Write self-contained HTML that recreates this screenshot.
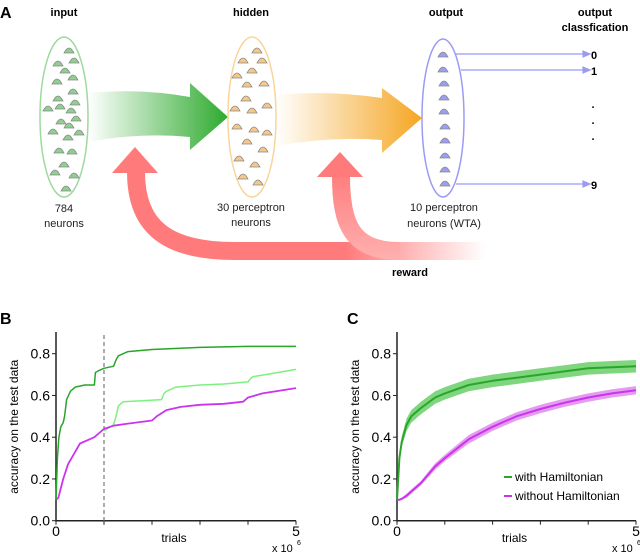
<!DOCTYPE html>
<html><head><meta charset="utf-8"><style>
html,body{margin:0;padding:0;background:#fff}
svg{display:block;font-family:"Liberation Sans",sans-serif}
</style></head><body>
<svg id="fig" width="640" height="553" viewBox="0 0 640 553">
<defs>
<linearGradient id="gGreen" x1="88" y1="0" x2="228" y2="0" gradientUnits="userSpaceOnUse"><stop offset="0" stop-color="#2eaa2e" stop-opacity="0"/><stop offset="1" stop-color="#2eaa2e"/></linearGradient>
<linearGradient id="gOrange" x1="276" y1="0" x2="422" y2="0" gradientUnits="userSpaceOnUse"><stop offset="0" stop-color="#f5a623" stop-opacity="0"/><stop offset="1" stop-color="#f5a623"/></linearGradient>
<linearGradient id="gRed" x1="300" y1="0" x2="485" y2="0" gradientUnits="userSpaceOnUse"><stop offset="0" stop-color="#ff7b7b"/><stop offset="0.25" stop-color="#ff7b7b"/><stop offset="1" stop-color="#ff7b7b" stop-opacity="0"/></linearGradient>
<linearGradient id="gRed2" x1="0" y1="170" x2="0" y2="260" gradientUnits="userSpaceOnUse"><stop offset="0" stop-color="#ff7b7b"/><stop offset="1" stop-color="#ffb0b0"/></linearGradient>
</defs>
<!-- Panel A -->
<text x="0" y="18" font-size="16" font-weight="bold">A</text>
<g font-size="11" font-weight="bold" text-anchor="middle">
<text x="64" y="16">input</text>
<text x="251" y="16">hidden</text>
<text x="446" y="16">output</text>
<text x="595" y="16">output</text>
<text x="595" y="31">classfication</text>
<text x="410" y="276">reward</text>
<text x="594" y="59">0</text>
<text x="594" y="75">1</text>
<text x="594" y="189">9</text>
<text x="593" y="108">.</text>
<text x="593" y="124">.</text>
<text x="593" y="140">.</text>
</g>
<g font-size="11" text-anchor="middle" fill="#222">
<text x="64" y="212">784</text>
<text x="64" y="227">neurons</text>
<text x="251" y="211">30 perceptron</text>
<text x="251" y="226">neurons</text>
<text x="444" y="211">10 perceptron</text>
<text x="444" y="227">neurons (WTA)</text>
</g>
<path d="M88,93 Q140,88 190,97 L190,83 L228,117 L190,150 L190,137 Q140,132 88,142 Z" fill="url(#gGreen)"/>
<path d="M276,95 Q330,90 382,98 L382,88 L422,118 L382,153 L382,140 Q330,136 276,146 Z" fill="url(#gOrange)"/>
<g>
<path d="M136,172 C136,228 168,251 235,251 L485,251" fill="none" stroke="url(#gRed)" stroke-width="18"/>
<polygon points="112,173 135,147 158,173" fill="#ff7b7b"/>
<path d="M341,176 C341,225 352,251 400,251" fill="none" stroke="url(#gRed2)" stroke-width="18"/>
<polygon points="317,177 340,152 363,177" fill="#ff7b7b"/>
</g>
<ellipse cx="64" cy="117" rx="24" ry="80" fill="none" stroke="#9ed99e" stroke-width="1.5"/>
<ellipse cx="252" cy="117" rx="24" ry="80" fill="none" stroke="#f9d59a" stroke-width="1.5"/>
<ellipse cx="443" cy="118" rx="21" ry="79" fill="none" stroke="#9b9bf5" stroke-width="1.5"/>
<g stroke="#9b9bf5" stroke-width="1.2" fill="#9b9bf5">
<line x1="455" y1="54" x2="583" y2="54"/><polygon points="583,51 590,54 583,57"/>
<line x1="461" y1="70" x2="583" y2="70"/><polygon points="583,67 590,70 583,73"/>
<line x1="456" y1="184" x2="583" y2="184"/><polygon points="583,181 590,184 583,187"/>
</g>
<g id="neurons"></g>
<!-- Panel B / C -->
<text x="0" y="324" font-size="16" font-weight="bold">B</text>
<text x="347" y="324" font-size="16" font-weight="bold">C</text>
<g id="chartB"></g>
<g id="chartC"></g>
</svg>
<script>
// Panel B data (x in 1e6 trials)
const bGreenX=[0,0.03,0.06,0.1,0.15,0.18,0.22,0.3,0.4,0.6,0.8,0.82,0.9,1.0,1.2,1.25,1.3,1.5,2.0,3.0,4.0,5.0];
const bGreenY=[0.1,0.3,0.4,0.45,0.47,0.5,0.58,0.62,0.64,0.65,0.65,0.71,0.72,0.73,0.74,0.77,0.79,0.81,0.82,0.83,0.835,0.835];
const bLightX=[1.0,1.2,1.25,1.3,1.4,1.8,2.2,2.25,2.3,2.5,3.0,3.5,4.0,4.05,4.1,4.5,5.0];
const bLightY=[0.43,0.46,0.5,0.55,0.57,0.575,0.58,0.61,0.62,0.64,0.65,0.655,0.665,0.68,0.69,0.705,0.725];
const bMagX=[0,0.05,0.15,0.25,0.4,0.5,0.7,0.8,0.9,1.0,1.2,1.5,2.0,2.1,2.3,2.6,3.0,3.5,3.9,4.0,4.3,5.0];
const bMagY=[0.1,0.11,0.2,0.27,0.33,0.37,0.39,0.4,0.42,0.44,0.455,0.465,0.48,0.5,0.53,0.545,0.555,0.56,0.57,0.59,0.61,0.635];
const bDashX=1.0;
// Panel C data
const cX=[0,0.05,0.1,0.2,0.3,0.5,0.8,1.0,1.5,2.0,2.5,3.0,3.5,4.0,4.5,5.0];
const cGreen=[0.1,0.3,0.38,0.46,0.5,0.54,0.59,0.61,0.65,0.67,0.685,0.70,0.715,0.73,0.735,0.74];
const cGreenErr=[0,0.02,0.025,0.03,0.03,0.03,0.03,0.03,0.03,0.03,0.03,0.03,0.03,0.03,0.03,0.03];
const cMag=[0.1,0.1,0.105,0.12,0.14,0.18,0.26,0.30,0.39,0.45,0.50,0.535,0.565,0.59,0.61,0.625];
const cMagErr=[0,0,0.005,0.01,0.01,0.01,0.015,0.015,0.02,0.02,0.02,0.02,0.02,0.02,0.02,0.02];
const yTicks=[0,0.2,0.4,0.6,0.8];
const yTickLabels=["0.0","0.2","0.4","0.6","0.8"];
const xTicks=[0,1,2,3,4,5];
const NS="http://www.w3.org/2000/svg";
function mk(tag,attrs,parent){const e=document.createElementNS(NS,tag);for(const k in attrs)e.setAttribute(k,attrs[k]);parent.appendChild(e);return e;}
function axes(g,x0,x1){
  const sx=v=>x0+(x1-x0)*v/5, sy=v=>520.7-v*(167/0.8);
  const ax=mk('path',{d:`M${x0},332 L${x0},${sy(0)} L${x1},${sy(0)}`,fill:'none',stroke:'#222','stroke-width':1.5},g);
  
  
  yTicks.forEach((t,i)=>{
    mk('line',{x1:x0-4,x2:x0,y1:sy(t),y2:sy(t),stroke:'#222'},g);
    const tx=mk('text',{x:x0-6,y:sy(t)+5,'font-size':14,'text-anchor':'end'},g);tx.textContent=yTickLabels[i];
    
    
  });
  xTicks.forEach(t=>{mk('line',{x1:sx(t),x2:sx(t),y1:sy(0),y2:sy(0)+4,stroke:'#222'},g);});
  let t=mk('text',{x:x0,y:536,'font-size':14,'text-anchor':'middle'},g);t.textContent='0';
  
  
  t=mk('text',{x:x1,y:536,'font-size':14,'text-anchor':'middle'},g);t.textContent='5';
  
  
  t=mk('text',{x:(x0+x1)/2-2,y:542,'font-size':12,'text-anchor':'middle'},g);t.textContent='trials';
  
  
  t=mk('text',{x:x1-24,y:552,'font-size':11},g);t.textContent='x 10';
  
  
  t=mk('text',{x:x1+1,y:545,'font-size':7},g);t.textContent='6';
  t=mk('text',{x:0,y:0,'font-size':12,'text-anchor':'middle',transform:`translate(${x0-38},${sy(0.45)}) rotate(-90)`},g);t.textContent='accuracy on the test data';
  
  
  return [sx,sy];
}
function line(g,xs,ys,sx,sy,col,w,name){
  const p=mk('path',{d:xs.map((x,i)=>(i?'L':'M')+sx(x).toFixed(1)+','+sy(ys[i]).toFixed(1)).join(' '),fill:'none',stroke:col,'stroke-width':w,'stroke-linejoin':'round'},g);
  
  
}
// B
const gB=document.getElementById('chartB');
const [bsx,bsy]=axes(gB,56,296);
const dl=mk('line',{x1:bsx(bDashX),x2:bsx(bDashX),y1:335,y2:bsy(0),stroke:'#777','stroke-dasharray':'4,3','stroke-width':1.2},gB);


line(gB,bLightX,bLightY,bsx,bsy,'#7ef07e',1.5,'light-green-line');
line(gB,bMagX,bMagY,bsx,bsy,'#cc33ee',1.8,'magenta-line');
line(gB,bGreenX,bGreenY,bsx,bsy,'#2aa52a',1.5,'green-line');
// C
const gC=document.getElementById('chartC');
const [csx,csy]=axes(gC,397,636);
function band(ys,err,col,name){
  const up=cX.map((x,i)=>csx(x).toFixed(1)+','+csy(ys[i]+err[i]).toFixed(1));
  const dn=cX.map((x,i)=>csx(x).toFixed(1)+','+csy(ys[i]-err[i]).toFixed(1)).reverse();
  const p=mk('polygon',{points:up.concat(dn).join(' '),fill:col},gC);
  
  
}
band(cGreen,cGreenErr,'#7fd67f','green-error-band');
band(cMag,cMagErr,'#e39cf0','magenta-error-band');
line(gC,cX,cGreen,csx,csy,'#2aa52a',2,'with-hamiltonian-line');
line(gC,cX,cMag,csx,csy,'#cc33ee',2,'without-hamiltonian-line');
[['with Hamiltonian','#2aa52a',477],['without Hamiltonian','#cc33ee',496]].forEach(([lab,col,y])=>{
  const l=mk('line',{x1:504,x2:512,y1:y,y2:y,stroke:col,'stroke-width':2},gC);
  
  
  const t=mk('text',{x:515,y:y+4,'font-size':12},gC);t.textContent=lab;
  
  
});
// neurons (diagram decoration)
const gN=document.getElementById('neurons');
const inputPos=[[69,50],[58,63],[74,60],[65,70],[57,81],[73,77],[73,91],[58,98],[75,102],[48,108],[60,106],[71,110],[61,121],[76,118],[69,125],[53,131],[79,132],[68,137],[59,150],[72,151],[64,164],[55,172],[74,175],[66,188]];
const hiddenPos=[[257,50],[243,60],[262,60],[252,70],[237,75],[247,84],[264,83],[246,98],[235,108],[252,110],[267,105],[237,126],[254,129],[267,132],[247,141],[263,149],[239,158],[255,164],[243,176],[258,182]];
const outPos=[[443,54],[443,69],[444,83],[444,97],[444,111],[445,126],[445,140],[445,155],[445,169],[445,183]];
function tri(x,y,col,name){
  const p=mk('path',{d:`M${x-5},${y+3} Q${x},${y-7} ${x+5},${y+3} Z`,fill:col,stroke:'#888','stroke-width':0.8},gN);
  
  
}
inputPos.forEach(([x,y])=>tri(x,y,'#8fcf8f','input-neuron'));
hiddenPos.forEach(([x,y])=>tri(x,y,'#f5c88a','hidden-neuron'));
outPos.forEach(([x,y])=>tri(x,y,'#9d9df2','output-neuron'));
</script>
</body></html>
